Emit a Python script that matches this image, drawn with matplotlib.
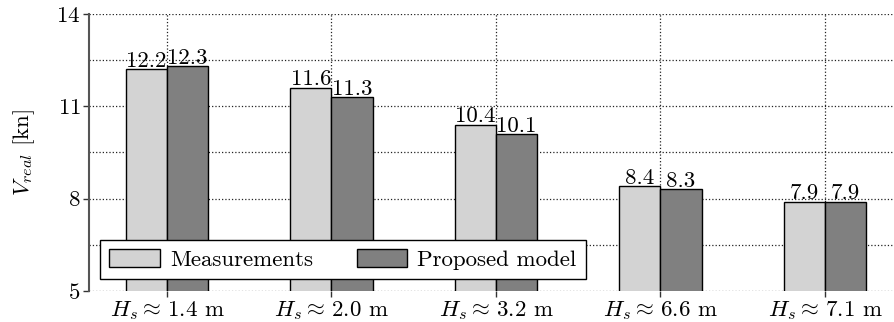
import matplotlib
matplotlib.use("Agg")
import matplotlib.pyplot as plt
import numpy as np
from matplotlib.ticker import FixedLocator

plt.rcParams['font.family'] = 'serif'
plt.rcParams['font.serif'] = ['cmr10']
plt.rcParams['mathtext.fontset'] = 'cm'
plt.rcParams['axes.formatter.use_mathtext'] = True
plt.rcParams['font.size'] = 16.5

# significant wave heights and the real vessel speeds [kn]
wave_heights = ['1.4', '2.0', '3.2', '6.6', '7.1']
measured = [12.2, 11.6, 10.4, 8.4, 7.9]
predicted = [12.3, 11.3, 10.1, 8.3, 7.9]

x = np.arange(len(wave_heights))
w = 0.25

fig = plt.figure(figsize=(8.94, 3.22), dpi=100)
ax = fig.add_axes([0.0996, 0.0963, 0.9004, 0.8602])

ax.bar(x - w / 2, measured, w, color='#d3d3d3', edgecolor='black',
       linewidth=1.0, label='Measurements', zorder=3)
ax.bar(x + w / 2, predicted, w, color='#808080', edgecolor='black',
       linewidth=1.0, label='Proposed model', zorder=3)

for xi, m, p in zip(x, measured, predicted):
    ax.text(xi - w / 2, m - 0.05, f'{m}', ha='center', va='bottom', zorder=4)
    ax.text(xi + w / 2, p - 0.05, f'{p}', ha='center', va='bottom', zorder=4)

ax.set_xlim(-0.474, 4.42)
ax.set_ylim(5, 14)
ax.set_yticks([5, 8, 11, 14])
ax.yaxis.set_minor_locator(FixedLocator([6.5, 9.5, 12.5]))
ax.set_xticks(x)
ax.set_xticklabels([rf'$H_s \approx\, {h}$ m' for h in wave_heights])
ax.tick_params(axis='both', which='major', length=4, width=1.0,
               color='#333333', pad=2)
ax.tick_params(axis='y', which='minor', length=0)

ax.grid(True, which='both', linestyle=':', color='#222222', linewidth=0.9,
        zorder=0)

for side in ['top', 'right', 'bottom']:
    ax.spines[side].set_visible(False)
ax.spines['left'].set_color('#555555')
ax.spines['left'].set_linewidth(1.5)

ax.set_ylabel(r'$V_{real}$ [kn]', labelpad=14)

leg = ax.legend(loc='lower left', bbox_to_anchor=(0.0137, 0.043), ncol=2,
                fancybox=False, framealpha=1, edgecolor='black',
                borderaxespad=0, borderpad=0.4, handlelength=2.2,
                handleheight=0.8, handletextpad=0.45, columnspacing=1.9)
leg.get_frame().set_linewidth(1.0)
leg.set_zorder(5)

fig.savefig('out.png', dpi=100)
